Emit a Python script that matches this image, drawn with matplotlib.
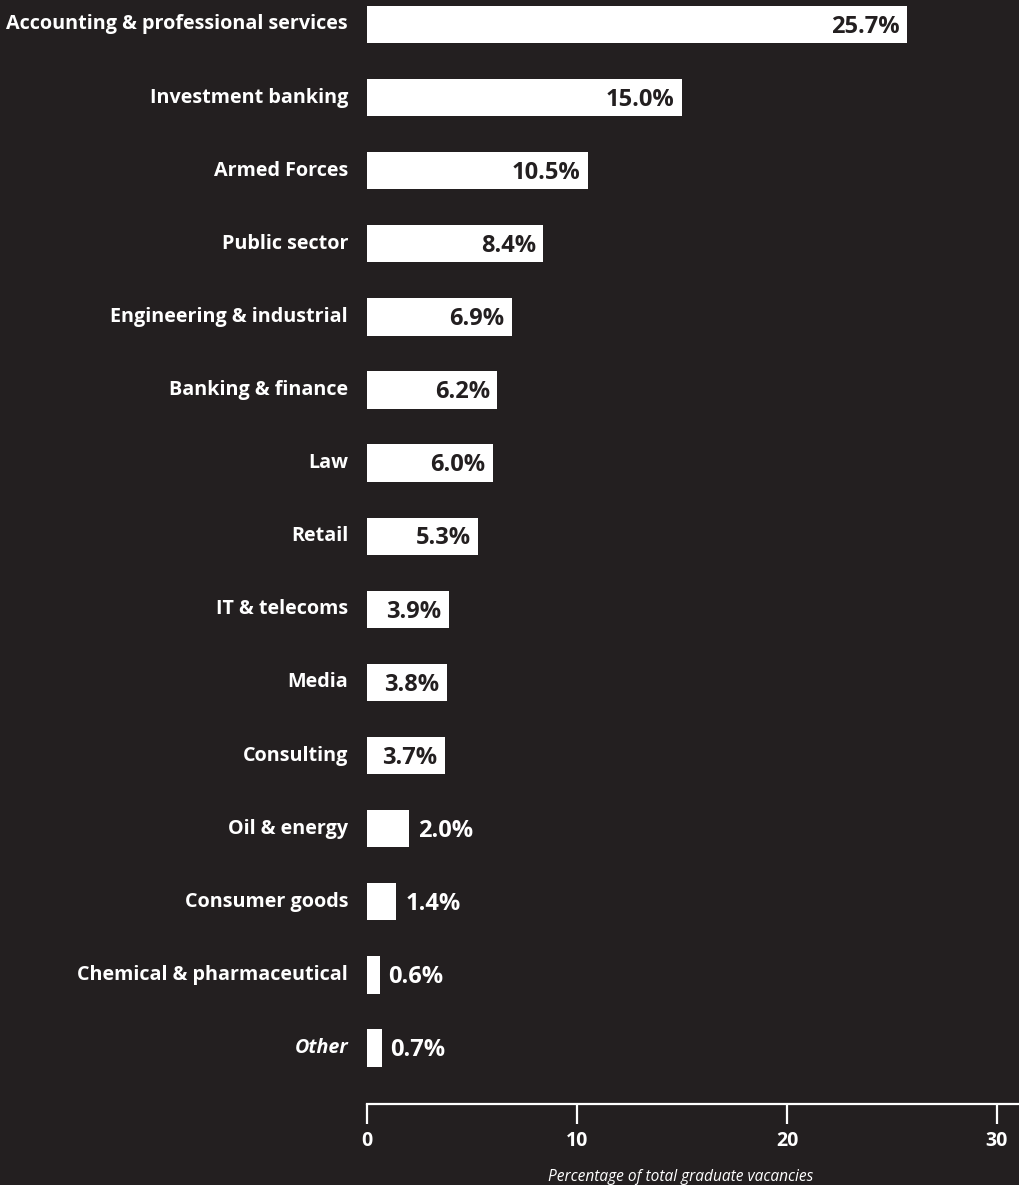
import matplotlib
matplotlib.use("Agg")
import matplotlib.pyplot as plt

# Share of total graduate vacancies by sector
sectors = [
    "Accounting & professional services",
    "Investment banking",
    "Armed Forces",
    "Public sector",
    "Engineering & industrial",
    "Banking & finance",
    "Law",
    "Retail",
    "IT & telecoms",
    "Media",
    "Consulting",
    "Oil & energy",
    "Consumer goods",
    "Chemical & pharmaceutical",
    "Other",
]
shares = [25.7, 15.0, 10.5, 8.4, 6.9, 6.2, 6.0, 5.3, 3.9, 3.8, 3.7, 2.0, 1.4, 0.6, 0.7]
x_ticks = [0, 10, 20, 30]
x_title = "Percentage of total graduate vacancies"

BG = "#231f20"
FG = "#ffffff"
FONT = ["Open Sans", "DejaVu Sans"]

W, H = 1020, 1185
fig = plt.figure(figsize=(W / 100, H / 100), dpi=100, facecolor=BG)
ax = fig.add_axes([367 / W, (H - 1104) / H, (W - 367) / W, 1104 / H])
ax.set_facecolor(BG)

ypos = list(range(len(sectors)))
ax.barh(ypos, shares, height=0.51, color=FG, edgecolor="none")

ax.set_xlim(0, (W - 367) / 21)
ax.set_ylim(len(sectors) - 1 + 0.766, -0.335)

# value labels: inside the bar when it is long enough, otherwise just past its end
for y, v in zip(ypos, shares):
    txt = f"{v:.1f}%"
    if v >= 3.5:
        ax.text(v - 0.35, y + 0.03, txt, ha="right", va="center", color=BG,
                fontsize=17, fontweight="bold", family=FONT)
    else:
        ax.text(v + 0.42, y + 0.03, txt, ha="left", va="center", color=FG,
                fontsize=17, fontweight="bold", family=FONT)

# category labels to the left of the axis
for y, name in zip(ypos, sectors):
    italic = name == "Other"
    ax.text(-0.9, y, name, ha="right", va="center", color=FG,
            fontsize=14.2, fontweight="bold",
            fontstyle="italic" if italic else "normal", family=FONT,
            clip_on=False)

for side in ("top", "right", "left"):
    ax.spines[side].set_visible(False)
ax.spines["bottom"].set_color(FG)
ax.spines["bottom"].set_linewidth(1.6)
ax.set_yticks([])
ax.set_xticks(x_ticks)
ax.set_xticklabels([str(t) for t in x_ticks])
ax.tick_params(axis="x", direction="out", length=14.5, width=1.6, color=FG,
               labelcolor=FG, labelsize=14, pad=5)
for lab in ax.get_xticklabels():
    lab.set_fontweight("bold")
    lab.set_family(FONT)

fig.text(681 / W, 1 - 1177 / H, x_title, ha="center", va="center", color=FG,
         fontsize=11.2, fontstyle="italic", family=FONT)

fig.savefig("out.png", dpi=100, facecolor=BG)
